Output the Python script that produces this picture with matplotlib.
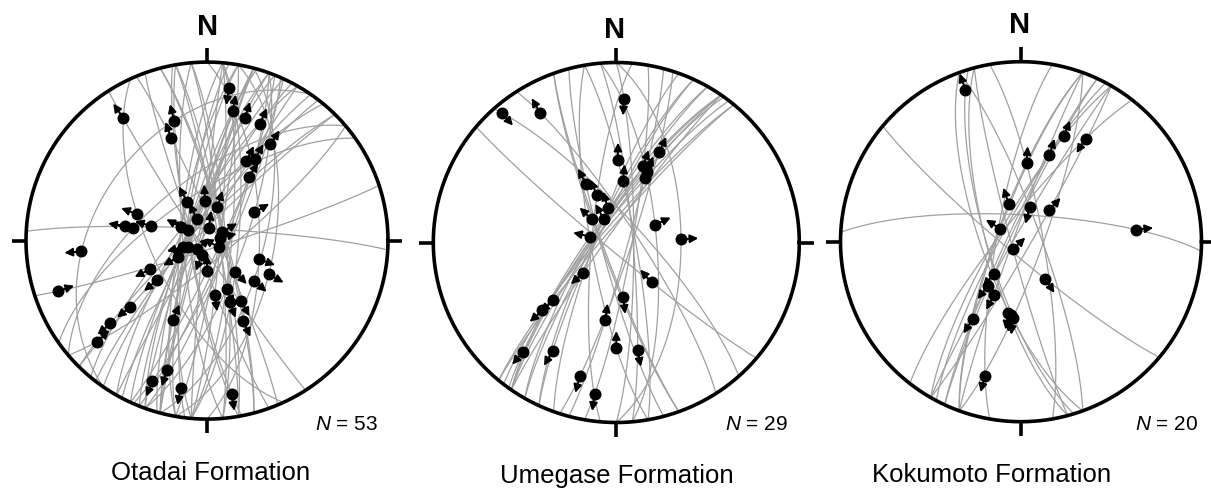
import numpy as np
import matplotlib
matplotlib.use("Agg")
import matplotlib.pyplot as plt

plt.rcParams['font.family'] = ['Liberation Sans', 'DejaVu Sans']
plt.rcParams['mathtext.fontset'] = 'custom'
plt.rcParams['mathtext.it'] = 'Liberation Sans:italic'
plt.rcParams['mathtext.rm'] = 'Liberation Sans'

# ---------------- data ----------------
formation_names = ["Otadai Formation", "Umegase Formation", "Kokumoto Formation"]
fault_counts = [53, 29, 20]

# Otadai Formation: slickenline trend/plunge (deg), fault-plane strike (deg), slip sense (+1 outward, -1 inward)
otadai_trend = [326, 345, 341, 8, 11, 17, 24, 33, 30, 26, 33, 59, 333, 357, 17, 335, 298, 8,
                291, 280, 280, 285, 77, 240, 265, 251, 255, 228, 180, 243, 231, 110, 119, 138,
                131, 158, 172, 160, 151, 156, 203, 229, 229, 227, 197, 201, 190, 171,
                300, 250, 60, 200, 120]
otadai_plunge = [18, 31, 39, 15, 27, 29, 29, 36, 46, 49, 55, 65, 70, 72, 74, 79, 77, 84,
                 56, 52, 56, 64, 84, 75, 31, 14, 79, 84, 76, 61, 61, 65, 58, 71,
                 62, 66, 65, 60, 58, 49, 50, 43, 30, 18, 25, 17, 17, 14,
                 80, 81, 82, 83, 84]
otadai_strike = [327, 350, 337, 5, 16, 22, 28, 38, 20, 35, 22, 20, 10, 25, 355, 15, 5, 30,
                 335, 93, 50, 55, 10, 20, 35, 72, 355, 15, 340, 40, 30, 0, 10, 5,
                 15, 350, 5, 355, 345, 345, 15, 45, 45, 50, 15, 24, 7, 349,
                 10, 20, 350, 5, 25]
otadai_sense = [1, 1, 1, -1, 1, 1, 1, 1, 1, 1, 1, 1, 1, 1, 1, 1, 1, 1,
                1, 1, 1, 1, 1, 1, 1, -1, 1, -1, -1, 1, 1, 1, 1, 1,
                1, 1, 1, 1, 1, 1, -1, 1, 1, -1, 1, 1, 1, 1,
                1, 1, 1, 1, -1]

# Umegase Formation
umegase_trend = [319, 330, 3, 1, 6, 25, 19, 23, 24, 333, 338, 346, 314, 332, 283, 65, 87,
                 227, 139, 227, 227, 173, 188, 180, 169, 220, 210, 195, 188]
umegase_plunge = [5, 18, 21, 52, 62, 44, 53, 55, 58, 60, 67, 74, 75, 78, 78, 71, 61,
                  70, 66, 51, 44, 65, 54, 41, 39, 22, 31, 24, 16]
umegase_strike = [318, 327, 0, 350, 25, 35, 30, 35, 38, 345, 5, 20, 340, 30, 35, 355, 0,
                  35, 130, 40, 40, 340, 15, 350, 355, 36, 25, 18, 10]
umegase_sense = [-1, 1, -1, 1, 1, 1, 1, 1, 1, 1, 1, 1, 1, 1, 1, 1, 1,
                 1, -1, 1, 1, 1, -1, -1, 1, 1, 1, 1, 1]

# Kokumoto Formation
kokumoto_trend = [340, 22, 32, 18, 4, 342, 14, 42, 302, 84, 226, 220, 207, 147, 190, 186, 212, 195, 217, 188]
kokumoto_plunge = [11, 37, 33, 48, 54, 72, 74, 71, 79, 36, 85, 71, 63, 70, 57, 55, 48, 24, 65, 56]
kokumoto_strike = [343, 30, 38, 28, 350, 20, 340, 30, 20, 273, 345, 25, 20, 130, 345, 20, 25, 10, 30, 340]
kokumoto_sense = [1, 1, -1, 1, 1, 1, -1, 1, 1, 1, -1, 1, 1, 1, 1, 1, 1, 1, 1, 1]

panels = [
    (otadai_trend, otadai_plunge, otadai_strike, otadai_sense),
    (umegase_trend, umegase_plunge, umegase_strike, umegase_sense),
    (kokumoto_trend, kokumoto_plunge, kokumoto_strike, kokumoto_sense),
]

# ---------------- layout (pixels in a 1211x493 canvas) ----------------
W, H = 1211, 493
geom = [  # cx, cy, rx, ry
    (207.0, 240.6, 181.0, 178.5),
    (616.3, 242.5, 183.0, 180.0),
    (1021.0, 241.7, 180.5, 180.0),
]
north_pos = [(208, 35), (615, 38), (1020, 33)]
count_pos = [(378, 430), (788, 430), (1198, 430)]
title_pos = [(211, 480), (617, 483), (992, 482)]

ARC_COLOR = '#a0a0a0'


def line_vec(trend, plunge):
    t, p = np.radians(trend), np.radians(plunge)
    return np.array([np.cos(p) * np.sin(t), np.cos(p) * np.cos(t), -np.sin(p)])


def project(v):
    v = np.atleast_2d(v).astype(float)
    flip = v[:, 2] > 0
    v[flip] *= -1
    E, N, U = v[:, 0], v[:, 1], v[:, 2]
    h = np.hypot(E, N)
    r = np.sqrt(np.clip(1.0 + U, 0, None))
    safe = np.where(h > 1e-12, h, 1.0)
    x = np.where(h > 1e-12, r * E / safe, 0.0)
    y = np.where(h > 1e-12, r * N / safe, 0.0)
    return x, y


def great_circle(strike, trend, plunge):
    s = np.array([np.sin(np.radians(strike)), np.cos(np.radians(strike)), 0.0])
    lv = line_vec(trend, plunge)
    n = np.cross(s, lv)
    n /= np.linalg.norm(n)
    w = np.cross(n, s)
    w /= np.linalg.norm(w)
    if w[2] > 0:
        w = -w
    th = np.linspace(0, np.pi, 241)
    pts = np.outer(np.cos(th), s) + np.outer(np.sin(th), w)
    return project(pts)


fig = plt.figure(figsize=(W / 100, H / 100), dpi=100)

for k, (trend, plunge, strike, sense) in enumerate(panels):
    cx, cy, rx, ry = geom[k]
    half = 200
    ax = fig.add_axes([(cx - half) / W, 0, 2 * half / W, 1])
    ax.set_xlim(-half / rx, half / rx)
    ax.set_ylim((cy - H) / ry, cy / ry)
    ax.set_aspect('auto')
    ax.axis('off')

    def px(x, y):
        return (x - cx) / rx, (cy - y) / ry

    # great circles (fault planes)
    for s_, t_, p_ in zip(strike, trend, plunge):
        gx, gy = great_circle(s_, t_, p_)
        ax.plot(gx, gy, color=ARC_COLOR, lw=0.9, zorder=2, solid_capstyle='butt')

    # primitive circle and ticks
    th = np.linspace(0, 2 * np.pi, 721)
    ax.plot(np.cos(th), np.sin(th), color='black', lw=2.6, zorder=5)
    for ang in (0, 90, 180, 270):
        a = np.radians(ang)
        ax.plot([np.sin(a), 1.08 * np.sin(a)], [np.cos(a), 1.08 * np.cos(a)],
                color='black', lw=2.6, solid_capstyle='butt', zorder=5)

    # slickenline points with slip arrows
    L = 17.0 / 180.0
    for t_, p_, sg in zip(trend, plunge, sense):
        x0, y0 = project(line_vec(t_, p_))
        x0, y0 = float(x0[0]), float(y0[0])
        dx = np.sin(np.radians(t_)) * sg * L
        dy = np.cos(np.radians(t_)) * sg * L
        ax.annotate('', xy=(x0 + dx, y0 + dy), xytext=(x0, y0),
                    arrowprops=dict(arrowstyle='-|>', color='black', lw=1.4,
                                    mutation_scale=12, shrinkA=0, shrinkB=0),
                    zorder=6)
        ax.plot(x0, y0, 'o', color='black', ms=7.6, mec='black', zorder=7)

    nx, ny = px(*north_pos[k])
    ax.text(nx, ny, 'N', ha='center', va='baseline', fontsize=21, fontweight='bold',
            clip_on=False)
    cxx, cyy = px(*count_pos[k])
    ax.text(cxx, cyy, r'$\mathit{N}$' + ' = %d' % fault_counts[k], ha='right', va='baseline',
            fontsize=15, clip_on=False)
    tx, ty = px(*title_pos[k])
    ax.text(tx, ty, formation_names[k], ha='center', va='baseline', fontsize=18.5, clip_on=False)

fig.savefig('out.png', dpi=100)
